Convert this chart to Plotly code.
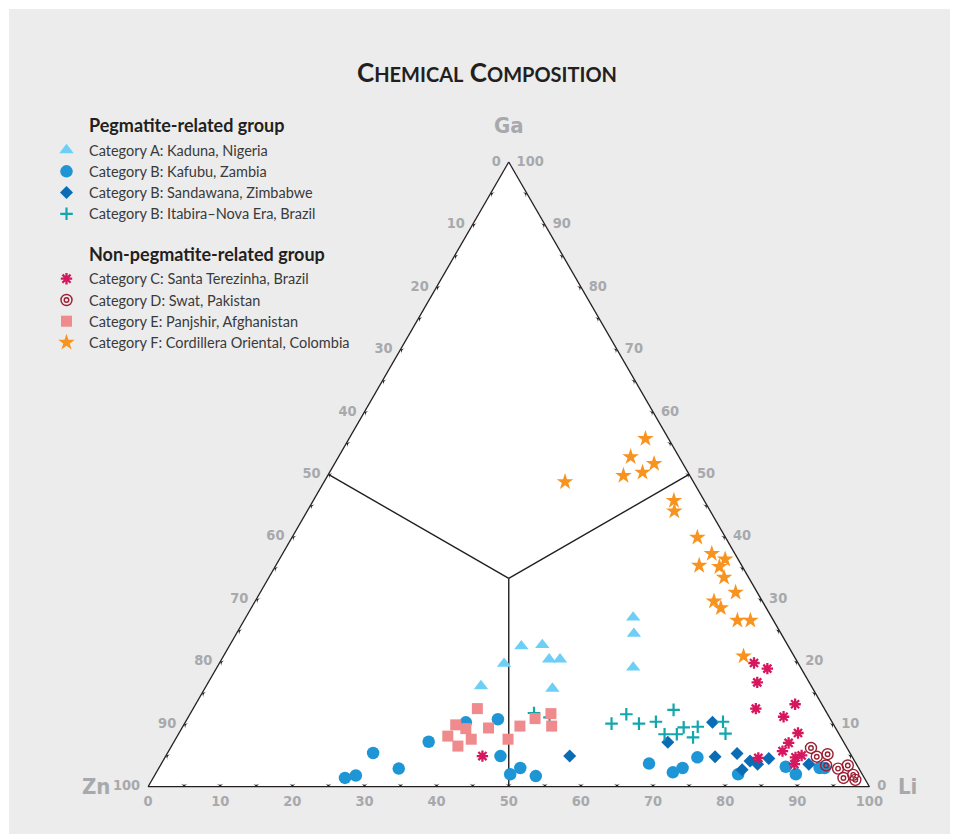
import plotly.graph_objects as go

# Ternary compositions in percent. Ga is the top apex, Li the bottom-right
# apex; Zn (bottom-left apex) is the remainder, 100 - Ga - Li.

# Pegmatite-related group
kaduna_ga = [27.1, 24.5, 19.1, 22.5, 22.7, 20.4, 20.4, 19.7, 16.1, 15.7]
kaduna_li = [53.7, 55.1, 57.7, 40.5, 43.3, 45.4, 46.9, 39.5, 38.1, 48.2]

kafubu_ga = [1.4, 1.8, 5.4, 2.9, 7.2, 10.3, 10.8, 4.9, 2.0, 3.0,
             1.7, 3.7, 2.3, 3.0, 4.7, 2.0, 3.2, 2.0, 3.0, 3.0]
kafubu_li = [26.6, 27.9, 28.5, 33.3, 35.3, 38.9, 43.1, 46.4, 49.2, 50.1,
             52.9, 67.6, 71.6, 72.6, 73.8, 80.8, 86.8, 88.8, 91.6, 92.3]

sandawana_ga = [4.9, 7.1, 10.3, 4.8, 5.3, 2.7, 4.1, 3.6, 4.5, 3.6]
sandawana_li = [56.0, 68.5, 73.1, 76.2, 79.0, 81.0, 81.4, 82.7, 83.8, 89.8]

itabira_ga = [10.1, 11.6, 10.1, 10.4, 12.3, 8.4, 8.4, 9.5, 7.9, 9.6,
              10.4, 8.5, 11.8, 11.1]
itabira_li = [59.2, 60.5, 63.0, 65.2, 66.7, 67.4, 69.1, 69.5, 71.6, 71.4,
              74.5, 75.8, 47.6, 50.1]

# Non-pegmatite-related group
terezinha_ga = [4.9, 19.8, 18.9, 16.7, 12.5, 13.2, 11.2, 8.6, 7.0, 5.7,
                4.6, 4.7, 5.0, 3.6]
terezinha_li = [43.9, 74.1, 76.4, 76.1, 78.0, 83.1, 82.5, 85.8, 85.3, 85.1,
                82.3, 87.4, 88.1, 87.8]

swat_ga = [6.2, 4.8, 5.2, 3.4, 2.9, 3.4, 1.4, 1.9, 1.1]
swat_li = [88.8, 90.3, 91.6, 92.3, 94.2, 95.3, 95.7, 96.8, 97.5]

panjshir_ga = [12.5, 9.9, 9.3, 9.4, 8.1, 7.6, 6.5, 7.6, 9.7, 10.9, 11.7, 9.7]
panjshir_li = [39.4, 37.7, 39.4, 42.5, 37.5, 41.0, 39.7, 46.1, 46.7, 48.2, 50.0, 51.1]

cordillera_ga = [48.8, 55.7, 52.8, 51.7, 49.8, 50.3, 45.8, 44.1, 39.9, 37.3,
                 36.4, 35.2, 35.4, 33.5, 31.1, 29.7, 28.6, 26.6, 26.6, 20.9]
cordillera_li = [33.4, 41.1, 40.5, 44.3, 41.0, 43.4, 50.0, 50.9, 56.2, 59.5,
                 61.8, 61.6, 58.7, 63.1, 65.9, 63.6, 65.1, 68.4, 70.2, 72.1]

# Axis scale
tick_values = list(range(0, 101, 10))
minor_tick_values = list(range(5, 100, 5))

# Field boundaries: centroid to the midpoint of each side (Ga, Li)
centroid = (100 / 3, 100 / 3)
side_midpoints = [(50, 0), (50, 50), (0, 50)]

W, H = 954, 837
INK = "#231f20"
GREY = "#a7a9ac"
NARROW = "Liberation Sans Narrow, Arial Narrow, DejaVu Sans Condensed, sans-serif"
TEXT_FONT = "Lato, Open Sans, sans-serif"

styles = {
    "A": dict(symbol="triangle-up", size=12.5, color="#6dcff6", line=dict(width=0)),
    "Bk": dict(symbol="circle", size=12.5, color="#1e96d5", line=dict(width=0)),
    "Bs": dict(symbol="diamond", size=10, color="#0b6cb6", line=dict(width=0)),
    "Bi": dict(symbol="cross-thin", size=9, color="#13a6ad",
               line=dict(width=2.2, color="#13a6ad")),
    "C": dict(symbol="asterisk", size=9.5, color="#d6175e",
              line=dict(width=2.3, color="#d6175e")),
    "D_out": dict(symbol="circle-open", size=11, color="#9b1f33",
                  line=dict(width=1.4, color="#9b1f33")),
    "D_in": dict(symbol="circle-open", size=4.5, color="#9b1f33",
                 line=dict(width=1.4, color="#9b1f33")),
    "E": dict(symbol="square", size=11, color="#ef8a8d", line=dict(width=0)),
    "F": dict(symbol="star", size=12.5, color="#f7931e", line=dict(width=0)),
}

fig = go.Figure()


def add_points(ga, li, name, keys):
    for k in keys:
        fig.add_trace(go.Scatterternary(
            a=ga, c=li, mode="markers", name=name, marker=styles[k],
            cliponaxis=False, showlegend=False, hoverinfo="skip"))


# Boundary lines first so the samples sit on top
for ga_m, li_m in side_midpoints:
    fig.add_trace(go.Scatterternary(
        a=[centroid[0], ga_m], c=[centroid[1], li_m], mode="lines",
        line=dict(color=INK, width=1.4), showlegend=False, hoverinfo="skip"))

add_points(kaduna_ga, kaduna_li, "Category A: Kaduna, Nigeria", ["A"])
add_points(kafubu_ga, kafubu_li, "Category B: Kafubu, Zambia", ["Bk"])
add_points(sandawana_ga, sandawana_li, "Category B: Sandawana, Zimbabwe", ["Bs"])
add_points(itabira_ga, itabira_li, "Category B: Itabira\u2013Nova Era, Brazil", ["Bi"])
add_points(terezinha_ga, terezinha_li, "Category C: Santa Terezinha, Brazil", ["C"])
add_points(panjshir_ga, panjshir_li, "Category E: Panjshir, Afghanistan", ["E"])
add_points(cordillera_ga, cordillera_li, "Category F: Cordillera Oriental, Colombia", ["F"])
add_points(swat_ga, swat_li, "Category D: Swat, Pakistan", ["D_out", "D_in"])

# Arrow-head tick marks on each side, pointing out of the triangle
tick_marker = dict(symbol="arrow-wide", size=4.6, color=INK, line=dict(width=0))
fig.add_trace(go.Scatterternary(  # Li side (bottom)
    a=[0 for _ in minor_tick_values], c=minor_tick_values, mode="markers",
    marker=dict(tick_marker, angle=180), cliponaxis=False,
    showlegend=False, hoverinfo="skip"))
fig.add_trace(go.Scatterternary(  # Ga side (right)
    a=minor_tick_values, c=[100 - v for v in minor_tick_values], mode="markers",
    marker=dict(tick_marker, angle=60), cliponaxis=False,
    showlegend=False, hoverinfo="skip"))
fig.add_trace(go.Scatterternary(  # Zn side (left)
    a=[100 - v for v in minor_tick_values], c=[0 for _ in minor_tick_values],
    mode="markers", marker=dict(tick_marker, angle=300), cliponaxis=False,
    showlegend=False, hoverinfo="skip"))

# Tick labels
label_font = dict(family=NARROW, size=14.5, color=GREY, weight="bold")
fig.add_trace(go.Scatterternary(  # Zn, along the left side
    a=[100 - v for v in tick_values], c=[0 for _ in tick_values],
    mode="markers+text", text=[str(v) for v in tick_values],
    textposition="middle left", textfont=label_font, cliponaxis=False,
    marker=dict(size=11, color="rgba(0,0,0,0)"), showlegend=False, hoverinfo="skip"))
fig.add_trace(go.Scatterternary(  # Ga, along the right side
    a=tick_values, c=[100 - v for v in tick_values],
    mode="markers+text", text=[str(v) for v in tick_values],
    textposition="middle right", textfont=label_font, cliponaxis=False,
    marker=dict(size=11, color="rgba(0,0,0,0)"), showlegend=False, hoverinfo="skip"))
fig.add_trace(go.Scatterternary(  # Li, along the bottom
    a=[0 for _ in tick_values], c=tick_values,
    mode="markers+text", text=[str(v) for v in tick_values],
    textposition="bottom center", textfont=label_font, cliponaxis=False,
    marker=dict(size=11.5, color="rgba(0,0,0,0)"), showlegend=False, hoverinfo="skip"))

# Legend: swatches on a pixel-scaled overlay, labels as annotations
legend_groups = [
    ("Pegmatite-related group", 125, [
        (["A"], "Category A: Kaduna, Nigeria", 150),
        (["Bk"], "Category B: Kafubu, Zambia", 171.3),
        (["Bs"], "Category B: Sandawana, Zimbabwe", 192.5),
        (["Bi"], "Category B: Itabira\u2013Nova Era, Brazil", 213.8),
    ]),
    ("Non-pegmatite-related group", 254, [
        (["C"], "Category C: Santa Terezinha, Brazil", 278.7),
        (["D_out", "D_in"], "Category D: Swat, Pakistan", 300),
        (["E"], "Category E: Panjshir, Afghanistan", 321.2),
        (["F"], "Category F: Cordillera Oriental, Colombia", 342.4),
    ]),
]
annotations = []
for title, ty, items in legend_groups:
    annotations.append(dict(
        x=87, y=ty, xref="x", yref="y", xanchor="left", yanchor="middle",
        text=title, showarrow=False,
        font=dict(family=TEXT_FONT, size=18, color=INK, weight="bold")))
    for keys, label, iy in items:
        for k in keys:
            fig.add_trace(go.Scatter(
                x=[66.5], y=[iy], mode="markers", marker=styles[k],
                showlegend=False, hoverinfo="skip", xaxis="x", yaxis="y"))
        annotations.append(dict(
            x=87, y=iy, xref="x", yref="y", xanchor="left", yanchor="middle",
            text=label, showarrow=False,
            font=dict(family=TEXT_FONT, size=14.5, color="#3a3a3a")))

# Chart title and apex names
annotations.append(dict(
    x=487 / W, y=1 - 72 / H, xref="paper", yref="paper", showarrow=False,
    xanchor="center", yanchor="middle",
    text="C<span style='font-size:20px'>HEMICAL</span> C<span style='font-size:20px'>OMPOSITION</span>",
    font=dict(family=TEXT_FONT, size=26, color=INK, weight="bold")))
for name, px, py in [("Ga", 509, 125), ("Zn", 96, 786), ("Li", 907, 786)]:
    annotations.append(dict(
        x=px / W, y=1 - py / H, xref="paper", yref="paper", showarrow=False,
        xanchor="center", yanchor="middle", text=name,
        font=dict(family=NARROW, size=22, color=GREY, weight="bold")))

axis_common = dict(showgrid=False, showticklabels=False, ticks="", showline=True,
                   linecolor=INK, linewidth=1.3, min=0, title=dict(text=""))

fig.update_layout(
    width=W, height=H,
    margin=dict(l=0, r=0, t=0, b=0),
    paper_bgcolor="white",
    plot_bgcolor="rgba(0,0,0,0)",
    showlegend=False,
    hovermode=False,
    dragmode=False,
    ternary=dict(
        sum=100,
        bgcolor="white",
        domain=dict(x=[148 / W, 869.5 / W], y=[1 - 786.7 / H, 1 - 162 / H]),
        aaxis=axis_common, baxis=axis_common, caxis=axis_common,
    ),
    xaxis=dict(range=[0, W], visible=False, domain=[0, 1], fixedrange=True),
    yaxis=dict(range=[H, 0], visible=False, domain=[0, 1], fixedrange=True),
    shapes=[dict(type="rect", xref="paper", yref="paper",
                 x0=9 / W, x1=950 / W, y0=1 - 834 / H, y1=1 - 9 / H,
                 fillcolor="#ececec", line=dict(width=0), layer="below")],
    annotations=annotations,
)

fig.write_html("out.html", config={"displayModeBar": False, "staticPlot": True})
